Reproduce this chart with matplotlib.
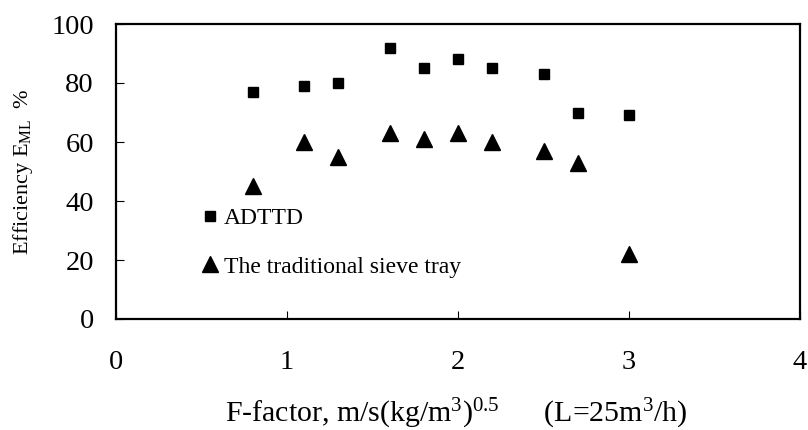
import matplotlib
matplotlib.use("Agg")
import matplotlib.pyplot as plt

# F-factor values (same for both trays)
f_factor = [0.8, 1.1, 1.3, 1.6, 1.8, 2.0, 2.2, 2.5, 2.7, 3.0]
adttd_eff = [77, 79, 80, 92, 85, 88, 85, 83, 70, 69]
sieve_eff = [45, 60, 55, 63, 61, 63, 60, 57, 53, 22]

series_labels = ["ADTTD", "The traditional sieve tray"]
x_ticks = [0, 1, 2, 3, 4]
y_ticks = [0, 20, 40, 60, 80, 100]

plt.rcParams["font.family"] = ["Liberation Serif", "DejaVu Serif"]
plt.rcParams["mathtext.fontset"] = "custom"
plt.rcParams["mathtext.rm"] = "Liberation Serif"
plt.rcParams["mathtext.default"] = "regular"

fig = plt.figure(figsize=(8.08, 4.30), dpi=100)
# axes box: x 116..800, y 24..319 (pixels)
ax = fig.add_axes([116 / 808, 1 - 319 / 430, 684 / 808, 295 / 430])

ax.plot(f_factor, adttd_eff, linestyle="none", marker="s", markersize=7.2,
        color="black", label=series_labels[0])
ax.plot(f_factor, sieve_eff, linestyle="none", marker="^", markersize=11.3,
        color="black", label=series_labels[1])

ax.set_xlim(0, 4)
ax.set_ylim(0, 100)
ax.set_xticks(x_ticks)
ax.set_yticks(y_ticks)
ax.tick_params(direction="in", length=6, width=0.8, labelsize=20.5)
ax.tick_params(axis="x", pad=22)
ax.tick_params(axis="y", pad=16)
for sp in ax.spines.values():
    sp.set_linewidth(1.6)

ax.set_xlabel(r"F-factor, m/s(kg/m$^{3}$)$^{0.5}$      (L=25m$^{3}$/h)", fontsize=21.5)
ax.xaxis.set_label_coords(0.497, -0.265)
ax.set_ylabel(r"Efficiency E$_{\mathrm{ML}}$  %", fontsize=16)
ax.yaxis.set_label_coords(-0.118, 0.5)

ax.legend(loc="center left", bbox_to_anchor=(0.123, 0.259), frameon=False,
          fontsize=17, handlelength=0.8, handletextpad=0.2, labelspacing=1.15,
          borderpad=0, borderaxespad=0, markerscale=1.0)

fig.savefig("out.png", dpi=100)
